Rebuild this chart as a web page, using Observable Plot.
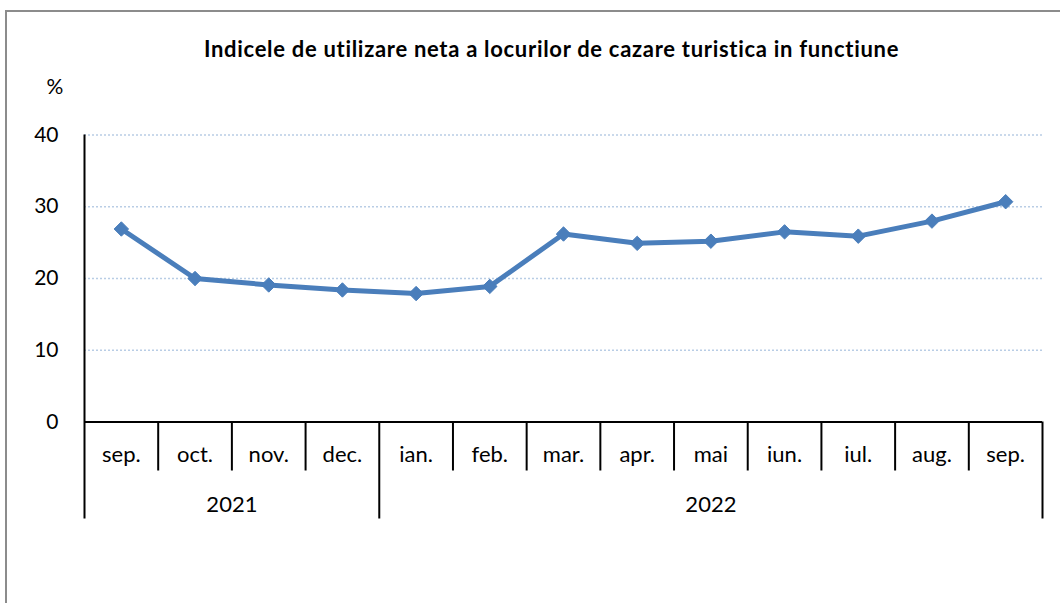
<!DOCTYPE html>
<html>
<head>
<meta charset="utf-8">
<script src="https://cdn.jsdelivr.net/npm/d3@7"></script>
<script src="https://cdn.jsdelivr.net/npm/@observablehq/plot@0.6"></script>
<style>
  body { margin: 0; background: #fff; }
  #wrap { position: relative; width: 1060px; height: 603px; overflow: hidden; }
  #border { position: absolute; left: 5px; top: 10px; right: -10px; bottom: -10px;
            border-left: 2px solid #8c8c8c; border-top: 2px solid #8c8c8c; pointer-events: none; }
  #chart { position: absolute; left: 0; top: 0; }
</style>
</head>
<body>
<div id="wrap"><div id="chart"></div><div id="border"></div></div>
<script>
const title = "Indicele de utilizare neta a locurilor de cazare turistica in functiune";
const unitLabel = "%";
const months = ["sep.","oct.","nov.","dec.","ian.","feb.","mar.","apr.","mai","iun.","iul.","aug.","sep."];
const years  = ["2021","2021","2021","2021","2022","2022","2022","2022","2022","2022","2022","2022","2022"];
const values = [26.9, 20.0, 19.1, 18.4, 17.9, 18.9, 26.2, 24.9, 25.2, 26.5, 25.9, 28.0, 30.7];
const yTicks = [0, 10, 20, 30, 40];
const gridTicks = [10, 20, 30, 40];

const keys = months.map((m, i) => years[i] + "-" + i);
const data = keys.map((k, i) => ({key: k, month: months[i], year: years[i], value: values[i]}));

const W = 1060, H = 603;
const mL = 84, mR = 18, mT = 134.5, mB = 181.5;
const bw = (W - mL - mR) / keys.length;
const blue = "#4A7EBB";
const font = "Lato, 'Open Sans', sans-serif";

const boundaries = data.map((d, i) => ({key: d.key, yearStart: i === 0 || years[i] !== years[i - 1]}));
const monthBounds = boundaries.filter(b => !b.yearStart);
const yearBounds = boundaries.filter(b => b.yearStart);
const lastKey = keys[keys.length - 1];

const uniqYears = Array.from(new Set(years));
const yearMarks = uniqYears.map(y => {
  const idx = years.map((yy, i) => yy === y ? i : -1).filter(i => i >= 0);
  const first = idx[0], n = idx.length;
  return Plot.text([y], {
    x: () => keys[first], text: d => d, frameAnchor: "bottom", lineAnchor: "middle",
    dx: (n - 1) / 2 * bw, dy: 83, fontSize: 22, fill: "#000"
  });
});

const chart = Plot.plot({
  width: W, height: H,
  marginLeft: mL, marginRight: mR, marginTop: mT, marginBottom: mB,
  style: {fontFamily: font, background: "transparent", overflow: "visible"},
  x: {domain: keys, type: "band", padding: 0, round: false, axis: null},
  y: {domain: [0, 40], axis: null},
  marks: [
    Plot.ruleY(gridTicks, {stroke: "#B9CDE5", strokeWidth: 1.3, strokeDasharray: "2,2"}),
    Plot.axisY({ticks: yTicks, tickSize: 0, tickPadding: 26, fontSize: 21, fill: "#000", label: null}),
    // left axis line (extends down through the year row)
    Plot.ruleX([keys[0]], {x: d => d, dx: -bw / 2, y1: 40, y2: 0, insetTop: 0, insetBottom: -97, stroke: "#000", strokeWidth: 2}),
    // baseline
    Plot.ruleY([0], {stroke: "#000", strokeWidth: 2}),
    // month separators
    Plot.ruleX(monthBounds, {x: "key", dx: -bw / 2, y1: 0, y2: 0, insetTop: 0, insetBottom: -49, stroke: "#000", strokeWidth: 2}),
    // year separators
    Plot.ruleX(yearBounds.slice(1), {x: "key", dx: -bw / 2, y1: 0, y2: 0, insetTop: 0, insetBottom: -97, stroke: "#000", strokeWidth: 2}),
    Plot.ruleX([lastKey], {x: d => d, dx: bw / 2, y1: 0, y2: 0, insetTop: 0, insetBottom: -97, stroke: "#000", strokeWidth: 2}),
    // month labels
    Plot.text(data, {x: "key", text: "month", frameAnchor: "bottom", lineAnchor: "middle", dy: 33, fontSize: 22, fill: "#000"}),
    ...yearMarks,
    // series
    Plot.line(data, {x: "key", y: "value", stroke: blue, strokeWidth: 5, strokeLinejoin: "round"}),
    Plot.dot(data, {x: "key", y: "value", symbol: "diamond2", r: 6.5, fill: blue, stroke: blue, strokeWidth: 1}),
    // title and unit
    Plot.text([title], {frameAnchor: "top", lineAnchor: "middle", dx: -12, dy: -85.5, fontSize: 22, fontWeight: "bold", fill: "#000"}),
    Plot.text([unitLabel], {frameAnchor: "top-left", lineAnchor: "middle", textAnchor: "start", dx: -38, dy: -47.5, fontSize: 21, fill: "#000"})
  ]
});
// widen the title slightly to match the original's letter spacing
d3.select(chart).selectAll("text").filter(function() { return this.textContent === title; })
  .style("letter-spacing", "0.7px");
document.getElementById("chart").appendChild(chart);
</script>
</body>
</html>
